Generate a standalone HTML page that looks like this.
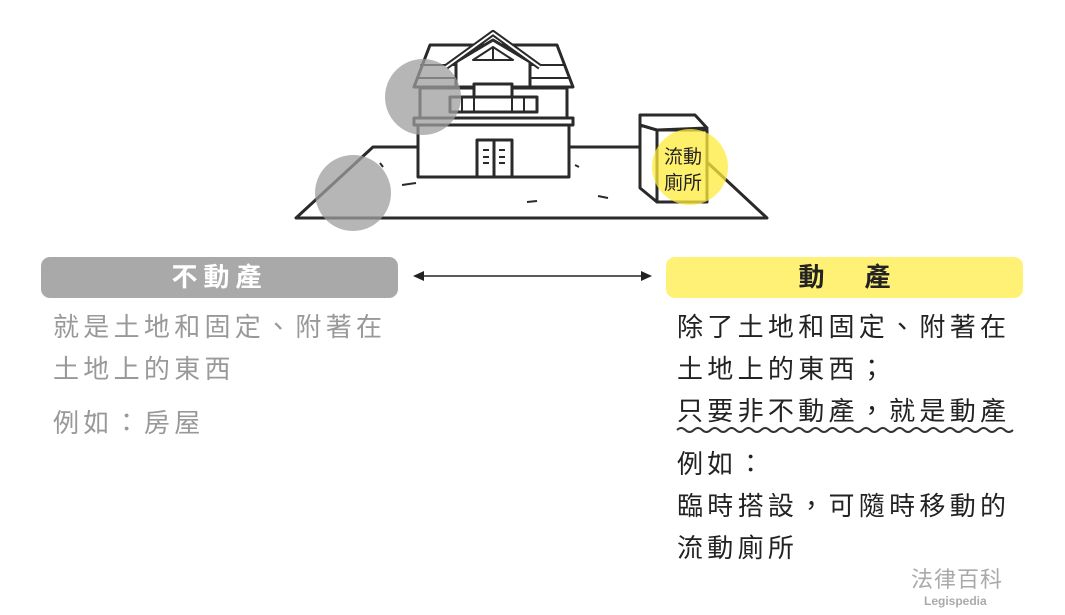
<!DOCTYPE html>
<html><head><meta charset="utf-8"><style>
body{margin:0;width:1065px;height:615px;background:#fff;position:relative;overflow:hidden;font-family:"Liberation Sans","Noto Sans CJK TC",sans-serif}
.t{position:absolute;font-size:26px;letter-spacing:4.3px;line-height:42px;white-space:nowrap}
.bar{position:absolute;top:257px;height:41px;border-radius:9px;text-align:center;font-size:26px;font-weight:bold;line-height:41px;color:#222}
</style></head><body>
<svg width="1065" height="615" style="position:absolute;left:0;top:0">
<g fill="none" stroke="#2a2a2a" stroke-width="3" stroke-linejoin="round">
<polyline points="418,147 373,147 296,218 767,218 708,163"/>
<line x1="569" y1="147" x2="640" y2="147"/>
<rect x="418" y="125" width="151" height="52" fill="#fff"/>
<rect x="477" y="140" width="35" height="37"/>
<line x1="494" y1="140" x2="494" y2="177"/>
<polygon points="414,125 573,125 573,118 414,118" fill="#fff"/>
<rect x="420" y="88" width="147" height="30" fill="#fff"/>
<polygon points="414,87 430,45 557,45 573,87" fill="#fff"/>
<line x1="420" y1="65" x2="566" y2="65" stroke-width="2"/>
<line x1="416" y1="78" x2="570" y2="78" stroke-width="2"/>
<polygon points="456,87 456,62 493,40 530,62 530,87" fill="#fff"/>
<polyline points="446,67 493,33 540,67" stroke-width="6" stroke="#2a2a2a"/>
<polyline points="446,67 493,33 540,67" stroke-width="2" stroke="#fff"/>
<polygon points="473,60 493,47 513,60" stroke-width="2"/>
<line x1="493" y1="47" x2="493" y2="60" stroke-width="2"/>
<rect x="474" y="84" width="38" height="28" fill="#fff"/>
<rect x="450" y="97" width="87" height="15" fill="#fff"/>
<line x1="462" y1="97" x2="462" y2="112" stroke-width="2"/><line x1="474" y1="97" x2="474" y2="112" stroke-width="2"/>
<line x1="512" y1="97" x2="512" y2="112" stroke-width="2"/><line x1="524" y1="97" x2="524" y2="112" stroke-width="2"/>
<polygon points="640,125 657,130 657,202 640,188" fill="#fff"/>
<polygon points="640,115 695,115 707,128 657,130 640,125" fill="#fff"/>
<rect x="657" y="130" width="50" height="72" fill="#fff"/>
</g>
<g stroke="#2a2a2a" stroke-width="2">
<line x1="483" y1="150" x2="489" y2="150"/><line x1="483" y1="157" x2="489" y2="157"/><line x1="483" y1="163" x2="489" y2="163"/>
<line x1="499" y1="150" x2="505" y2="150"/><line x1="499" y1="157" x2="505" y2="157"/><line x1="499" y1="163" x2="505" y2="163"/>
<line x1="380" y1="163" x2="383" y2="167"/><line x1="402" y1="185" x2="416" y2="183"/><line x1="575" y1="165" x2="579" y2="167"/><line x1="527" y1="202" x2="537" y2="201"/><line x1="598" y1="196" x2="608" y2="198"/>
</g>
<circle cx="423" cy="97" r="38" fill="#9e9e9e" opacity="0.75"/>
<circle cx="353" cy="193" r="38" fill="#9e9e9e" opacity="0.75"/>
<circle cx="690" cy="167" r="38" fill="#ffeb3b" opacity="0.75"/>
<text x="683" y="163" font-size="19" text-anchor="middle" fill="#222" font-family="Noto Sans CJK TC,sans-serif">流動</text>
<text x="683" y="189" font-size="19" text-anchor="middle" fill="#222" font-family="Noto Sans CJK TC,sans-serif">廁所</text>
<line x1="418" y1="276" x2="647" y2="276" stroke="#222" stroke-width="1.5"/>
<polygon points="413,276 424,271 424,281" fill="#222"/>
<polygon points="652,276 641,271 641,281" fill="#222"/>
<path d="M677,430 q4.2,-4 8.4,0 t8.4,0 t8.4,0 t8.4,0 t8.4,0 t8.4,0 t8.4,0 t8.4,0 t8.4,0 t8.4,0 t8.4,0 t8.4,0 t8.4,0 t8.4,0 t8.4,0 t8.4,0 t8.4,0 t8.4,0 t8.4,0 t8.4,0 t8.4,0 t8.4,0 t8.4,0 t8.4,0 t8.4,0 t8.4,0 t8.4,0 t8.4,0 t8.4,0 t8.4,0 t8.4,0 t8.4,0 t8.4,0 t8.4,0 t8.4,0 t8.4,0 t8.4,0 t8.4,0 t8.4,0 t8.4,0" fill="none" stroke="#333" stroke-width="2"/>
</svg>
<div class="bar" style="left:41px;width:357px;background:#a9a9a9;color:#fff;letter-spacing:6px">不動產</div>
<div class="bar" style="left:666px;width:357px;background:#fff176;letter-spacing:40px;text-indent:40px">動產</div>
<div class="t" style="left:53px;top:306px;color:#999">就是土地和固定、附著在<br>土地上的東西</div>
<div class="t" style="left:53px;top:402px;color:#999">例如：房屋</div>
<div class="t" style="left:677px;top:306px;color:#222">除了土地和固定、附著在<br>土地上的東西；<br>只要非不動產，就是動產</div>
<div class="t" style="left:677px;top:443px;color:#222">例如：<br>臨時搭設，可隨時移動的<br>流動廁所</div>
<div style="position:absolute;left:911px;top:562px;font-size:22px;color:#aaa;letter-spacing:1px">法律百科</div>
<div style="position:absolute;left:924px;top:594px;font-size:12px;font-weight:bold;color:#aaa">Legispedia</div>
</body></html>
